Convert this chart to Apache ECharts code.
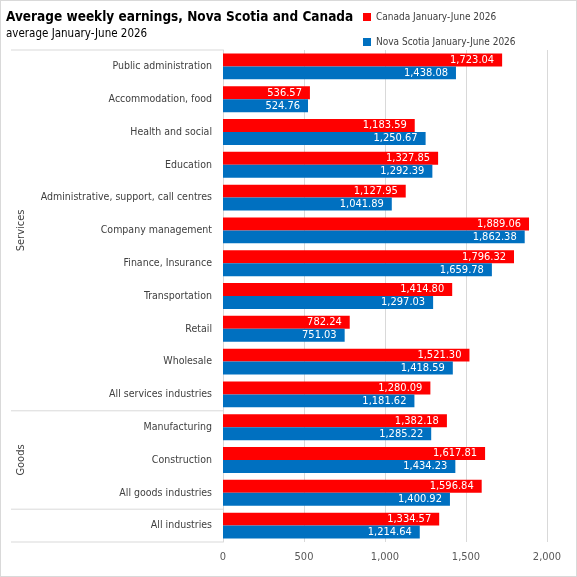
<!DOCTYPE html>
<html>
<head>
<meta charset="utf-8">
<script src="https://cdn.jsdelivr.net/npm/echarts@6/dist/echarts.min.js"></script>
<style>
  html, body { margin: 0; padding: 0; background: #fff; }
  #main { width: 577px; height: 577px; box-sizing: border-box; border: 1px solid #d9d9d9; }
</style>
</head>
<body>
<div id="main"></div>
<script>
var FONT = "'DejaVu Sans Condensed', 'Liberation Sans Narrow', sans-serif";

var categories = [
    'Public administration', 'Accommodation, food', 'Health and social', 'Education',
    'Administrative, support, call centres', 'Company management', 'Finance, Insurance',
    'Transportation', 'Retail', 'Wholesale', 'All services industries',
    'Manufacturing', 'Construction', 'All goods industries', 'All industries'
];
var canada = [1723.04, 536.57, 1183.59, 1327.85, 1127.95, 1889.06, 1796.32,
    1414.80, 782.24, 1521.30, 1280.09, 1382.18, 1617.81, 1596.84, 1334.57];
var novaScotia = [1438.08, 524.76, 1250.67, 1292.39, 1041.89, 1862.38, 1659.78,
    1297.03, 751.03, 1418.59, 1181.62, 1285.22, 1434.23, 1400.92, 1214.64];
// groups: name, first index, last index
var groups = [
    {name: 'Services', from: 0, to: 10},
    {name: 'Goods', from: 11, to: 13},
    {name: '', from: 14, to: 14}
];
var xTicks = [0, 500, 1000, 1500, 2000];

function fmt(v) {
    return v.toLocaleString('en-US', {minimumFractionDigits: 2, maximumFractionDigits: 2});
}

var myChart = echarts.init(document.getElementById('main'));

var option = {
    animation: false,
    textStyle: {fontFamily: FONT},
    title: {
        text: 'Average weekly earnings, Nova Scotia and Canada',
        subtext: 'average January-June 2026',
        left: 0,
        top: 4,
        itemGap: 4,
        textStyle: {fontFamily: FONT, fontSize: 13.5, fontWeight: 'bold', color: '#000'},
        subtextStyle: {fontFamily: FONT, fontSize: 11.5, color: '#000'}
    },
    legend: {
        orient: 'vertical',
        left: 357,
        top: 6,
        itemGap: 15,
        itemWidth: 8,
        itemHeight: 8,
        icon: 'rect',
        textStyle: {fontFamily: FONT, fontSize: 10, color: '#404040'},
        data: ['Canada January-June 2026', 'Nova Scotia January-June 2026']
    },
    grid: {left: 222, right: 29, top: 49, bottom: 34},
    xAxis: {
        type: 'value',
        min: 0,
        max: 2000,
        interval: 500,
        axisLine: {show: false},
        axisTick: {show: false},
        axisLabel: {
            fontFamily: FONT, fontSize: 11, color: '#595959', margin: 10,
            formatter: function (v) { return xTicks.indexOf(v) >= 0 ? v.toLocaleString('en-US') : ''; }
        },
        splitLine: {lineStyle: {color: '#d9d9d9'}}
    },
    yAxis: {
        type: 'category',
        inverse: true,
        data: categories,
        axisLine: {lineStyle: {color: '#d9d9d9'}},
        axisTick: {show: false},
        axisLabel: {fontFamily: FONT, fontSize: 10.5, color: '#404040', margin: 11}
    },
    series: [
        {
            name: 'Canada January-June 2026',
            type: 'bar',
            data: canada,
            barGap: '0%',
            barCategoryGap: '21%',
            itemStyle: {color: '#ff0000'},
            label: {
                show: true, position: 'insideRight', distance: 8,
                color: '#fff', fontFamily: FONT, fontSize: 11,
                formatter: function (p) { return fmt(p.value); }
            }
        },
        {
            name: 'Nova Scotia January-June 2026',
            type: 'bar',
            data: novaScotia,
            barGap: '0%',
            barCategoryGap: '21%',
            itemStyle: {color: '#0070c0'},
            label: {
                show: true, position: 'insideRight', distance: 8,
                color: '#fff', fontFamily: FONT, fontSize: 11,
                formatter: function (p) { return fmt(p.value); }
            }
        }
    ]
};

myChart.setOption(option);

// group separators and group names on the left
var x0 = myChart.convertToPixel({xAxisIndex: 0}, 0);
var c0 = myChart.convertToPixel({yAxisIndex: 0}, 0);
var c1 = myChart.convertToPixel({yAxisIndex: 0}, 1);
var step = c1 - c0;
var graphics = [];
function edge(i) { return c0 + step * i - step / 2; }
graphics.push({type: 'line', shape: {x1: 10, y1: edge(0), x2: x0, y2: edge(0)},
    style: {stroke: '#d9d9d9', lineWidth: 1}, silent: true});
groups.forEach(function (g) {
    var yEnd = edge(g.to + 1);
    graphics.push({type: 'line', shape: {x1: 10, y1: yEnd, x2: x0, y2: yEnd},
        style: {stroke: '#d9d9d9', lineWidth: 1}, silent: true});
    if (g.name) {
        var mid = (edge(g.from) + yEnd) / 2;
        graphics.push({
            type: 'text', x: 20, y: mid, rotation: Math.PI / 2,
            style: {text: g.name, fontFamily: FONT, fontSize: 11, fill: '#404040',
                align: 'center', verticalAlign: 'middle'},
            silent: true
        });
    }
});
myChart.setOption({graphic: graphics});
</script>
</body>
</html>
